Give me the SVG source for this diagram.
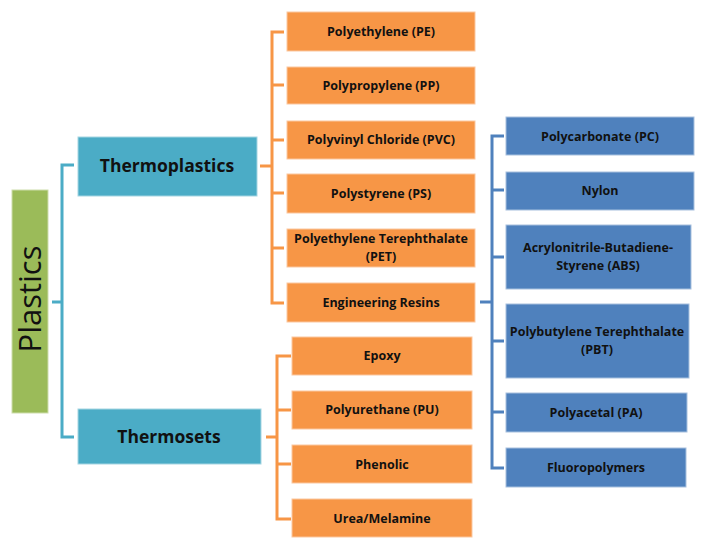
<svg xmlns="http://www.w3.org/2000/svg" width="705" height="542" viewBox="0 0 705 542">
<style>
.o{fill:#F79646;stroke:#FBC79F;stroke-width:1}
.b{fill:#4F81BD;stroke:#A7C0DE;stroke-width:1}
.t{fill:#4BACC6;stroke:#A5D5E2;stroke-width:1}
.g{fill:#9BBB59;stroke:#CDDDAC;stroke-width:1}
text{font-family:"Open Sans","Liberation Sans",sans-serif;font-weight:bold;fill:#111;text-anchor:middle;font-size:12.5px}
.big{font-size:17.5px}
.co{fill:none;stroke:#F79646;stroke-width:3}
.cb{fill:none;stroke:#4F81BD;stroke-width:3}
.ct{fill:none;stroke:#4BACC6;stroke-width:3}
</style>
<rect width="705" height="542" fill="#fff"/>
<g id="connectors">
<path class="ct" d="M52,302H62M74,165H62V437H74"/>
<path class="co" d="M260,166H272M284,32H272V303H284M272,85H284M272,140H284M272,193H284M272,248H284"/>
<path class="co" d="M266,437H277M291,356H277V519H291M277,410H291M277,464H291"/>
<path class="cb" d="M480,302H492M504,136H492V468H504M492,190H504M492,257H504M492,341H504M492,412H504"/>
</g>
<g id="plastics"><rect class="g" x="12" y="190" width="36" height="223"/><text transform="translate(41,299) rotate(-90)" style="font-weight:normal;font-size:31px">Plastics</text></g>
<g id="thermoplastics"><rect class="t" x="78" y="137" width="179" height="59"/><text class="big" x="167" y="172">Thermoplastics</text></g>
<g id="thermosets"><rect class="t" x="78" y="409" width="183" height="55"/><text class="big" x="169" y="443">Thermosets</text></g>
<g id="pe"><rect class="o" x="287" y="12" width="188" height="39"/><text x="381" y="36">Polyethylene (PE)</text></g>
<g id="pp"><rect class="o" x="287" y="67" width="188" height="37"/><text x="381" y="90">Polypropylene (PP)</text></g>
<g id="pvc"><rect class="o" x="287" y="121" width="188" height="38"/><text x="381" y="144">Polyvinyl Chloride (PVC)</text></g>
<g id="ps"><rect class="o" x="287" y="174" width="188" height="39"/><text x="381" y="198">Polystyrene (PS)</text></g>
<g id="pet"><rect class="o" x="287" y="229" width="188" height="38"/><text x="381" y="243">Polyethylene Terephthalate</text><text x="381" y="261">(PET)</text></g>
<g id="engineering-resins"><rect class="o" x="287" y="283" width="188" height="39"/><text x="381" y="307">Engineering Resins</text></g>
<g id="epoxy"><rect class="o" x="292" y="337" width="180" height="38"/><text x="382" y="360">Epoxy</text></g>
<g id="pu"><rect class="o" x="292" y="391" width="180" height="38"/><text x="382" y="414">Polyurethane (PU)</text></g>
<g id="phenolic"><rect class="o" x="292" y="445" width="180" height="38"/><text x="382" y="469">Phenolic</text></g>
<g id="urea"><rect class="o" x="292" y="499" width="180" height="38"/><text x="382" y="523">Urea/Melamine</text></g>
<g id="pc"><rect class="b" x="506" y="117" width="188" height="38"/><text x="600" y="141">Polycarbonate (PC)</text></g>
<g id="nylon"><rect class="b" x="506" y="172" width="188" height="38"/><text x="600" y="195">Nylon</text></g>
<g id="abs"><rect class="b" x="506" y="225" width="185" height="64"/><text x="598" y="252">Acrylonitrile-Butadiene-</text><text x="598" y="270">Styrene (ABS)</text></g>
<g id="pbt"><rect class="b" x="506" y="304" width="183" height="74"/><text x="597" y="336">Polybutylene Terephthalate</text><text x="597" y="354">(PBT)</text></g>
<g id="pa"><rect class="b" x="506" y="393" width="181" height="39"/><text x="596" y="417">Polyacetal (PA)</text></g>
<g id="fluoro"><rect class="b" x="506" y="448" width="180" height="39"/><text x="596" y="472">Fluoropolymers</text></g>
</svg>
